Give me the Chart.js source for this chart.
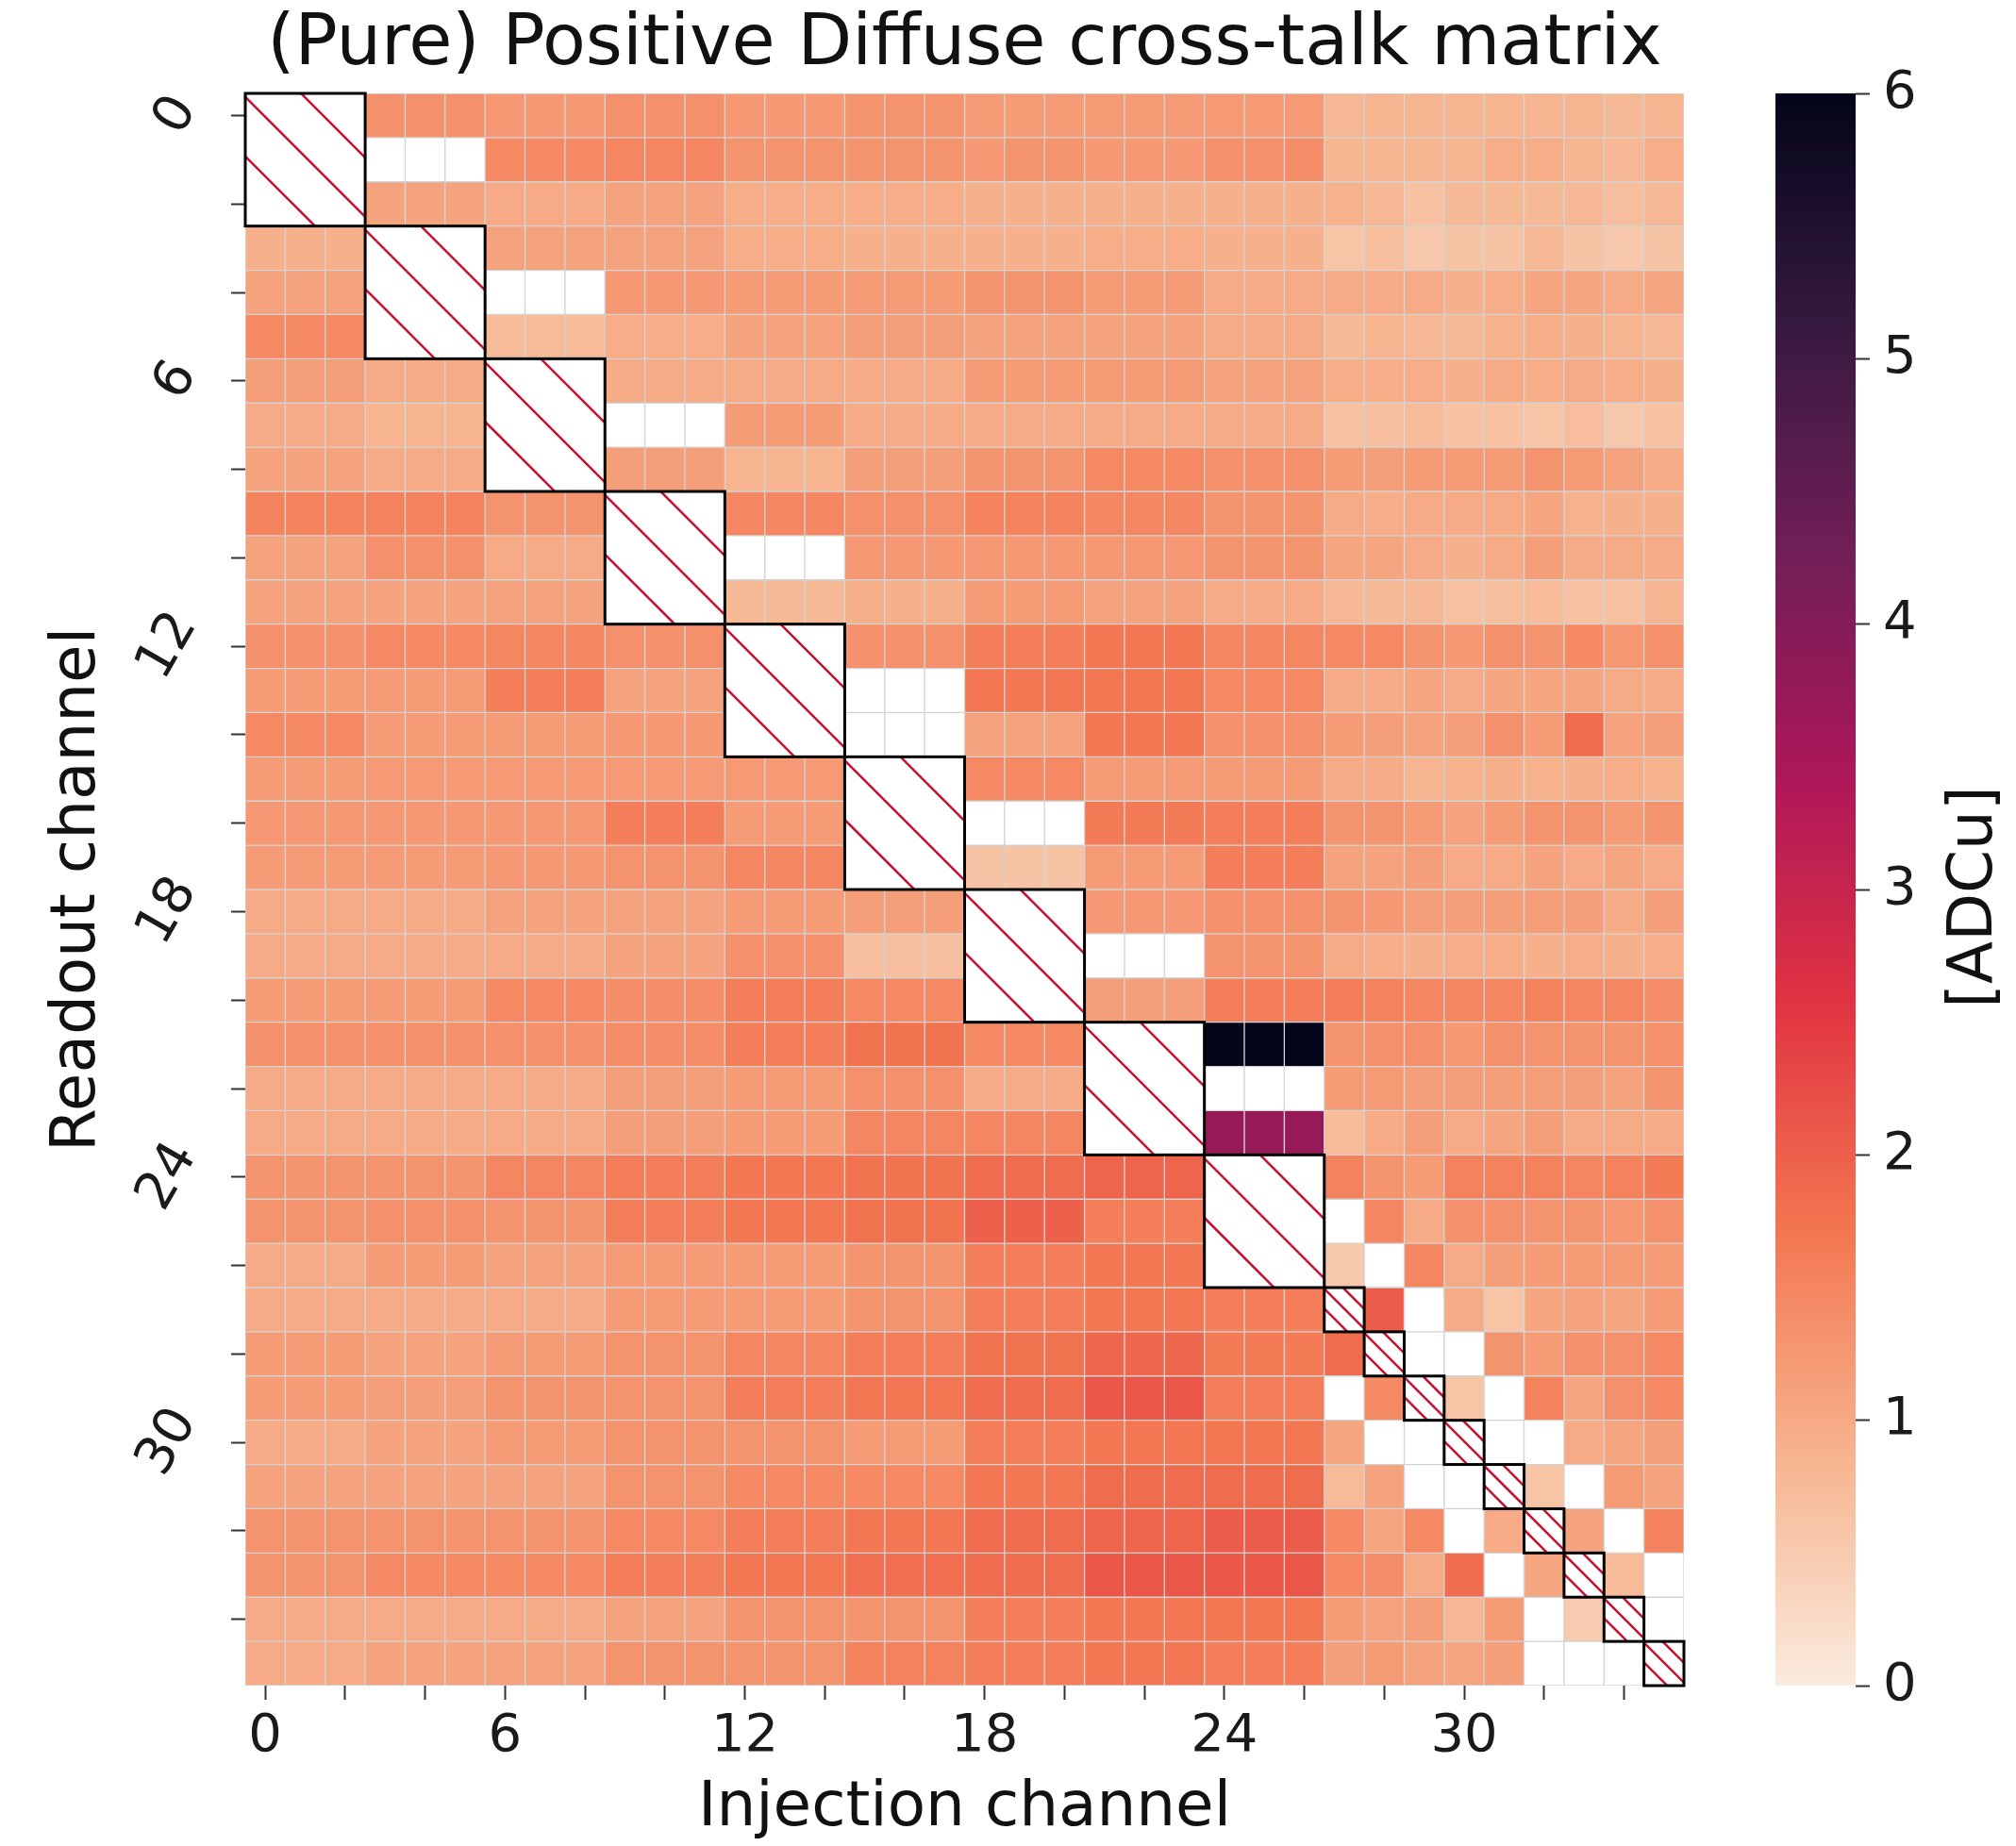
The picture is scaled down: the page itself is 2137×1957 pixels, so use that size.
<!DOCTYPE html>
<html>
<head>
<meta charset="utf-8">
<title>(Pure) Positive Diffuse cross-talk matrix</title>
<script src="https://cdn.jsdelivr.net/npm/chart.js@4.4.1/dist/chart.umd.min.js"></script>
<style>
  html, body { margin: 0; padding: 0; background: #fff; }
  #wrap { position: relative; width: 2137px; height: 1957px; }
  #matrix { position: absolute; left: 0; top: 0; }
  #cbar { position: absolute; left: 1860px; top: 0; }
</style>
</head>
<body>
<div id="wrap">
  <canvas id="matrix" width="1800" height="1957"></canvas>
  <canvas id="cbar" width="277" height="1957"></canvas>
</div>
<script>
// channel numbers (injection = columns, readout = rows)
const channels = ['0','1','2','3','4','5','6','7','8','9','10','11','12','13','14','15','16','17',
  '18','19','20','21','22','23','24','25','26','27','28','29','30','31','32','33','34','35'];
const labelledChannels = ['0', '6', '12', '18', '24', '30'];
const colorbarTicks = [0, 1, 2, 3, 4, 5, 6];
const vmin = 0, vmax = 6;

// self-injection blocks [first, last+1], hatched on the diagonal
const diagBlocks = [[0,3],[3,6],[6,9],[9,12],[12,15],[15,18],[18,21],[21,24],[24,27],
  [27,28],[28,29],[29,30],[30,31],[31,32],[32,33],[33,34],[34,35],[35,36]];

// cross-talk amplitude [ADCu], one row per readout channel; null = not measured
const adcu = [
  [null,null,null,1.35,1.35,1.35,1.25,1.25,1.25,1.35,1.35,1.35,1.25,1.25,1.25,1.3,1.3,1.3,1.2,1.2,1.2,1.2,1.2,1.2,1.22,1.22,1.22,0.8,0.85,0.85,0.85,0.85,0.85,0.85,0.78,0.85],
  [null,null,null,null,null,null,1.45,1.45,1.45,1.5,1.5,1.5,1.3,1.3,1.3,1.3,1.3,1.3,1.25,1.3,1.3,1.25,1.25,1.25,1.35,1.35,1.4,0.82,0.85,0.85,0.85,0.95,0.95,0.85,0.8,0.95],
  [null,null,null,1.1,1.1,1.1,0.98,0.98,0.98,1.1,1.1,1.1,0.95,0.95,0.95,0.95,0.95,0.95,0.9,0.9,0.9,0.9,0.9,0.9,0.9,0.9,0.9,0.88,0.8,0.65,0.78,0.78,0.78,0.8,0.7,0.8],
  [0.9,0.9,0.9,null,null,null,1.1,1.1,1.1,1.1,1.1,1.1,0.95,0.95,0.95,0.9,0.9,0.9,0.9,0.9,0.9,0.95,0.95,0.95,0.9,0.9,0.9,0.6,0.7,0.55,0.62,0.62,0.8,0.62,0.55,0.62],
  [1.1,1.1,1.1,null,null,null,null,null,null,1.25,1.25,1.25,1.2,1.2,1.2,1.2,1.2,1.2,1.3,1.3,1.3,1.2,1.2,1.2,1.0,1.0,1.0,1.0,1.0,1.0,0.9,0.95,1.05,1.05,1.0,1.05],
  [1.45,1.45,1.45,null,null,null,0.75,0.75,0.75,0.95,0.95,0.95,1.1,1.1,1.1,1.15,1.15,1.15,1.1,1.1,1.1,1.1,1.1,1.1,1.0,1.0,1.0,0.78,0.85,0.8,0.78,0.88,0.95,0.9,0.85,0.8],
  [1.15,1.15,1.15,1.0,1.0,1.0,null,null,null,1.0,1.0,1.0,1.0,1.0,1.0,1.0,1.0,1.0,1.2,1.2,1.2,1.2,1.2,1.2,1.1,1.1,1.1,0.95,0.95,0.95,0.9,1.0,0.95,1.0,0.95,0.9],
  [1.0,1.0,1.0,0.85,0.85,0.85,null,null,null,null,null,null,1.2,1.2,1.2,1.0,1.0,1.0,1.0,1.0,1.0,1.0,1.0,1.0,1.0,1.0,1.0,0.65,0.68,0.75,0.65,0.65,0.6,0.72,0.55,0.65],
  [1.1,1.1,1.1,1.0,1.0,1.0,null,null,null,1.15,1.15,1.15,0.85,0.85,0.85,1.15,1.15,1.15,1.3,1.3,1.3,1.45,1.45,1.45,1.35,1.35,1.35,1.2,1.15,1.2,1.2,1.2,1.3,1.2,1.1,1.0],
  [1.55,1.55,1.55,1.55,1.55,1.55,1.3,1.3,1.3,null,null,null,1.5,1.5,1.5,1.35,1.35,1.35,1.55,1.55,1.55,1.5,1.5,1.5,1.3,1.3,1.3,1.0,0.95,1.0,1.0,0.98,1.05,0.88,0.9,0.9],
  [1.1,1.1,1.1,1.35,1.35,1.35,1.0,1.0,1.0,null,null,null,null,null,null,1.25,1.25,1.25,1.25,1.25,1.25,1.25,1.25,1.25,1.3,1.3,1.3,1.05,1.05,1.0,0.9,1.0,1.15,1.0,1.0,1.0],
  [1.1,1.1,1.1,1.1,1.1,1.1,1.1,1.1,1.1,null,null,null,0.78,0.78,0.78,0.92,0.92,0.92,1.2,1.2,1.2,1.1,1.1,1.1,1.0,1.0,1.0,0.8,0.78,0.8,0.65,0.7,0.75,0.65,0.65,0.85],
  [1.35,1.35,1.35,1.45,1.45,1.45,1.5,1.5,1.5,1.35,1.35,1.35,null,null,null,1.35,1.35,1.35,1.6,1.6,1.6,1.7,1.7,1.7,1.5,1.5,1.5,1.45,1.45,1.3,1.25,1.35,1.3,1.45,1.25,1.35],
  [1.2,1.2,1.2,1.2,1.2,1.2,1.6,1.6,1.6,1.1,1.1,1.1,null,null,null,null,null,null,1.7,1.7,1.7,1.7,1.7,1.7,1.45,1.45,1.45,1.0,1.0,1.05,1.0,1.05,1.05,1.05,0.98,1.0],
  [1.45,1.45,1.45,1.2,1.2,1.2,1.2,1.2,1.2,1.25,1.25,1.25,null,null,null,null,null,null,1.1,1.1,1.1,1.7,1.7,1.7,1.35,1.35,1.35,1.2,1.15,1.1,1.15,1.35,1.2,1.85,1.1,1.15],
  [1.2,1.2,1.2,1.22,1.22,1.22,1.22,1.22,1.22,1.22,1.22,1.22,1.22,1.22,1.22,null,null,null,1.45,1.45,1.45,1.2,1.2,1.2,1.2,1.2,1.2,1.0,0.98,0.85,0.88,0.9,0.88,0.9,0.95,0.88],
  [1.25,1.25,1.25,1.25,1.25,1.25,1.25,1.25,1.25,1.6,1.6,1.6,1.2,1.2,1.2,null,null,null,null,null,null,1.65,1.65,1.65,1.6,1.6,1.6,1.3,1.3,1.2,1.1,1.2,1.3,1.3,1.2,1.3],
  [1.2,1.2,1.2,1.2,1.2,1.2,1.25,1.25,1.25,1.3,1.3,1.3,1.5,1.5,1.5,null,null,null,0.62,0.62,0.62,1.2,1.2,1.2,1.6,1.6,1.6,1.1,1.1,1.15,1.0,1.0,1.1,1.0,1.05,1.0],
  [1.0,1.0,1.0,1.0,1.0,1.0,1.1,1.1,1.1,1.1,1.1,1.1,1.2,1.2,1.2,1.15,1.15,1.15,null,null,null,1.25,1.25,1.25,1.35,1.35,1.35,1.3,1.25,1.15,1.15,1.15,1.15,1.15,1.0,1.15],
  [1.0,1.0,1.0,1.0,1.0,1.0,1.0,1.0,1.0,1.1,1.1,1.1,1.35,1.35,1.35,0.68,0.68,0.68,null,null,null,null,null,null,1.3,1.3,1.3,1.0,0.95,0.9,0.95,0.95,0.9,0.95,0.9,0.95],
  [1.2,1.2,1.2,1.2,1.2,1.2,1.45,1.45,1.45,1.4,1.4,1.4,1.6,1.6,1.6,1.45,1.45,1.45,null,null,null,1.15,1.15,1.15,1.6,1.6,1.6,1.6,1.55,1.5,1.5,1.5,1.55,1.5,1.5,1.4],
  [1.35,1.35,1.35,1.35,1.35,1.35,1.35,1.35,1.35,1.4,1.4,1.4,1.6,1.6,1.6,1.75,1.75,1.75,1.45,1.45,1.45,null,null,null,6,6,6,1.3,1.35,1.35,1.25,1.35,1.3,1.3,1.3,1.35],
  [1.0,1.0,1.0,1.0,1.0,1.0,1.0,1.0,1.0,1.15,1.15,1.15,1.2,1.2,1.2,1.35,1.35,1.35,1.0,1.0,1.0,null,null,null,null,null,null,1.2,1.2,1.15,1.15,1.15,1.15,1.15,1.1,1.3],
  [1.0,1.0,1.0,1.0,1.0,1.0,1.0,1.0,1.0,1.15,1.15,1.15,1.2,1.2,1.2,1.5,1.5,1.5,1.5,1.5,1.5,null,null,null,3.75,3.75,3.75,0.75,1.0,1.15,1.0,1.05,1.15,1.0,1.0,1.0],
  [1.3,1.3,1.3,1.3,1.3,1.3,1.5,1.5,1.5,1.6,1.6,1.6,1.7,1.7,1.7,1.75,1.75,1.75,1.85,1.85,1.85,1.95,1.95,1.95,null,null,null,1.55,1.3,1.2,1.55,1.55,1.55,1.5,1.55,1.65],
  [1.3,1.3,1.3,1.35,1.35,1.35,1.3,1.3,1.3,1.6,1.6,1.6,1.7,1.7,1.7,1.75,1.75,1.75,2.0,2.0,2.0,1.6,1.6,1.6,null,null,null,null,1.5,1.0,1.35,1.35,1.3,1.3,1.25,1.35],
  [1.0,1.0,1.0,1.2,1.2,1.2,1.1,1.1,1.1,1.2,1.2,1.2,1.2,1.2,1.2,1.3,1.3,1.3,1.6,1.6,1.6,1.7,1.7,1.7,null,null,null,0.55,null,1.5,1.0,1.15,1.2,1.2,1.2,1.2],
  [1.0,1.0,1.0,1.0,1.0,1.0,1.0,1.0,1.0,1.2,1.2,1.2,1.2,1.2,1.2,1.3,1.3,1.3,1.6,1.6,1.6,1.7,1.7,1.7,1.6,1.6,1.6,null,2.05,null,1.0,0.6,1.05,1.1,1.05,1.2],
  [1.2,1.2,1.2,1.1,1.1,1.1,1.2,1.2,1.2,1.3,1.3,1.3,1.5,1.5,1.5,1.6,1.6,1.6,1.75,1.75,1.75,1.9,1.9,1.9,1.65,1.65,1.65,1.85,null,null,null,1.3,1.2,1.35,1.35,1.45],
  [1.2,1.2,1.2,1.15,1.15,1.15,1.3,1.3,1.3,1.3,1.3,1.3,1.6,1.6,1.6,1.7,1.7,1.7,1.85,1.85,1.85,2.1,2.1,2.1,1.6,1.6,1.6,null,1.45,null,0.6,null,1.55,1.05,1.35,1.45],
  [1.0,1.0,1.0,1.1,1.1,1.1,1.2,1.2,1.2,1.3,1.3,1.3,1.3,1.3,1.3,1.2,1.2,1.2,1.6,1.6,1.6,1.7,1.7,1.7,1.7,1.7,1.7,1.05,null,null,null,null,null,1.0,1.05,1.15],
  [1.1,1.1,1.1,1.1,1.1,1.1,1.1,1.1,1.1,1.3,1.3,1.3,1.45,1.45,1.45,1.45,1.45,1.45,1.7,1.7,1.7,1.85,1.85,1.85,1.85,1.85,1.85,0.75,1.1,null,null,null,0.6,null,1.2,1.1],
  [1.3,1.3,1.3,1.3,1.3,1.3,1.3,1.3,1.3,1.45,1.45,1.45,1.6,1.6,1.6,1.7,1.7,1.7,1.85,1.85,1.85,1.95,1.95,1.95,2.05,2.05,2.05,1.45,1.05,1.45,null,1.0,null,1.1,null,1.55],
  [1.3,1.3,1.3,1.45,1.45,1.45,1.45,1.45,1.45,1.6,1.6,1.6,1.7,1.7,1.7,1.8,1.8,1.8,1.85,1.85,1.85,2.1,2.1,2.1,2.1,2.1,2.1,1.45,1.4,1.0,1.85,null,1.05,null,0.75,null],
  [1.0,1.0,1.0,1.0,1.0,1.0,1.0,1.0,1.0,1.1,1.1,1.1,1.3,1.3,1.3,1.3,1.3,1.3,1.6,1.6,1.6,1.7,1.7,1.7,1.7,1.7,1.7,1.2,1.1,1.15,0.8,1.2,null,0.5,null,null],
  [1.0,1.0,1.0,1.1,1.1,1.1,1.1,1.1,1.1,1.3,1.3,1.3,1.3,1.3,1.3,1.55,1.55,1.55,1.6,1.6,1.6,1.7,1.7,1.7,1.6,1.6,1.6,1.15,1.2,1.1,1.05,1.15,null,null,null,null]
];

// reversed "rocket" palette: light at vmin, near-black at vmax
const rocketStops = [
  [0.000, [3, 5, 26]],
  [0.143, [53, 25, 62]],
  [0.286, [112, 31, 87]],
  [0.429, [173, 23, 89]],
  [0.571, [225, 51, 66]],
  [0.714, [243, 118, 81]],
  [0.857, [246, 180, 143]],
  [1.000, [250, 235, 221]]
];

function rocketR(v) {
  const t = 1 - Math.min(Math.max((v - vmin) / (vmax - vmin), 0), 1);
  for (let i = 1; i < rocketStops.length; i++) {
    const [t1, c1] = rocketStops[i];
    if (t <= t1) {
      const [t0, c0] = rocketStops[i - 1];
      const f = (t - t0) / (t1 - t0);
      const c = c0.map((a, k) => Math.round(a + (c1[k] - a) * f));
      return `rgb(${c[0]},${c[1]},${c[2]})`;
    }
  }
  return 'rgb(250,235,221)';
}

Chart.defaults.font.family = "'DejaVu Sans', sans-serif";
Chart.defaults.color = '#1a1a1a';

// one floating-bar dataset per readout row, spanning [row, row + 1]
const rowSets = adcu.map((row, r) => ({
  label: 'readout ' + channels[r],
  data: row.map(() => [r, r + 1]),
  backgroundColor: row.map(v => v === null ? '#ffffff' : rocketR(v)),
  borderColor: '#d3d3d3',
  borderWidth: 1,
  borderSkipped: false,
  grouped: false,
  barPercentage: 1,
  categoryPercentage: 1
}));

const rowTicks = channels.filter((c, i) => i % 2 === 0).map(c => Number(c) + 0.5);

// hatched diagonal blocks and rotated readout labels
const cellDecor = {
  id: 'cellDecor',
  afterDatasetsDraw(chart) {
    const ctx = chart.ctx;
    diagBlocks.forEach(([a, b]) => {
      const first = chart.getDatasetMeta(a).data[a];
      const last = chart.getDatasetMeta(b - 1).data[b - 1];
      const left = first.x - first.width / 2;
      const right = last.x + last.width / 2;
      const top = Math.min(first.y, first.base);
      const bottom = Math.max(last.y, last.base);
      const w = right - left, h = bottom - top;
      ctx.save();
      ctx.fillStyle = '#ffffff';
      ctx.fillRect(left, top, w, h);
      ctx.beginPath();
      ctx.rect(left, top, w, h);
      ctx.clip();
      ctx.strokeStyle = '#c8102e';
      ctx.lineWidth = 2.5;
      const step = w * 0.495, off = w * 0.03;
      [-1, 0, 1].forEach(k => {
        const c = off + k * step;
        ctx.beginPath();
        ctx.moveTo(left - h, top - h + c);
        ctx.lineTo(left + w + h, top + w + h + c);
        ctx.stroke();
      });
      ctx.restore();
      ctx.save();
      ctx.strokeStyle = '#000000';
      ctx.lineWidth = 3;
      ctx.strokeRect(left, top, w, h);
      ctx.restore();
    });
  },
  afterDraw(chart) {
    const ctx = chart.ctx;
    const ys = chart.scales.y;
    ctx.save();
    ctx.font = "56px 'DejaVu Sans'";
    ctx.fillStyle = '#1a1a1a';
    ctx.textAlign = 'center';
    ctx.textBaseline = 'middle';
    labelledChannels.forEach(lab => {
      const py = ys.getPixelForValue(Number(lab) + 0.5);
      const tw = ctx.measureText(lab).width;
      const boxW = tw * 0.5 + 41 * 0.866;
      const cx = ys.right - 46 - boxW / 2;
      ctx.save();
      ctx.translate(cx, py);
      ctx.rotate(-Math.PI / 3);
      ctx.fillText(lab, 0, 0);
      ctx.restore();
    });
    ctx.restore();
  }
};

new Chart(document.getElementById('matrix'), {
  type: 'bar',
  data: { labels: channels, datasets: rowSets },
  options: {
    responsive: false,
    animation: false,
    devicePixelRatio: 1,
    events: [],
    layout: { padding: { top: 0, right: 15, bottom: 0, left: 0 } },
    plugins: {
      legend: { display: false },
      tooltip: { enabled: false },
      title: {
        display: true,
        fullSize: false,
        text: '(Pure) Positive Diffuse cross-talk matrix',
        color: '#111',
        font: { size: 75, weight: 'normal' },
        padding: { top: 4, bottom: 5 }
      }
    },
    scales: {
      x: {
        type: 'category',
        position: 'bottom',
        offset: true,
        grid: {
          offset: false,
          drawOnChartArea: false,
          tickLength: 15,
          tickWidth: 2,
          tickColor: ctx => ctx.index % 2 === 0 ? '#333' : 'rgba(0,0,0,0)'
        },
        border: { display: false },
        ticks: {
          autoSkip: false,
          minRotation: 0,
          maxRotation: 0,
          padding: 6,
          font: { size: 56 },
          callback: (v, i) => labelledChannels.includes(channels[i]) ? channels[i] : ''
        },
        title: {
          display: true,
          text: 'Injection channel',
          color: '#111',
          font: { size: 66 },
          padding: { top: 0, bottom: 0 }
        },
        afterFit: s => { s.height = 170; }
      },
      y: {
        type: 'linear',
        min: 0,
        max: channels.length,
        reverse: true,
        afterBuildTicks: s => { s.ticks = rowTicks.map(v => ({ value: v })); },
        grid: { drawOnChartArea: false, tickLength: 15, tickWidth: 2, tickColor: '#333' },
        border: { display: false },
        ticks: { display: false },
        title: {
          display: true,
          text: 'Readout channel',
          color: '#111',
          font: { size: 66 },
          padding: { top: 43, bottom: 0 }
        },
        afterFit: s => { s.width = 260; }
      }
    }
  },
  plugins: [cellDecor]
});

// colour bar
const unitLabel = {
  id: 'unitLabel',
  afterDraw(chart) {
    const ctx = chart.ctx;
    const ys = chart.scales.y;
    ctx.save();
    ctx.font = "66px 'DejaVu Sans'";
    ctx.fillStyle = '#111';
    ctx.textAlign = 'center';
    ctx.textBaseline = 'middle';
    ctx.translate(ys.right - 43, (ys.top + ys.bottom) / 2 + 8);
    ctx.rotate(-Math.PI / 2);
    ctx.fillText('[ADCu]', 0, 0);
    ctx.restore();
  }
};

function barGradient(c) {
  const area = c.chart.chartArea;
  if (!area || !isFinite(area.top) || !isFinite(area.bottom) || area.bottom <= area.top) {
    return rocketR(1);
  }
  const g = c.chart.ctx.createLinearGradient(0, area.bottom, 0, area.top);
  for (let i = 0; i <= 48; i++) {
    const v = vmin + (vmax - vmin) * i / 48;
    g.addColorStop(i / 48, rocketR(v));
  }
  return g;
}

new Chart(document.getElementById('cbar'), {
  type: 'bar',
  data: {
    labels: ['ADCu'],
    datasets: [{
      data: [[vmin, vmax]],
      backgroundColor: barGradient,
      borderWidth: 0,
      barPercentage: 1,
      categoryPercentage: 1
    }]
  },
  options: {
    responsive: false,
    animation: false,
    devicePixelRatio: 1,
    events: [],
    layout: { padding: { top: 99, bottom: 170, left: 22, right: 0 } },
    plugins: { legend: { display: false }, tooltip: { enabled: false } },
    scales: {
      x: { display: false },
      y: {
        position: 'right',
        min: vmin,
        max: vmax,
        afterBuildTicks: s => { s.ticks = colorbarTicks.map(v => ({ value: v })); },
        grid: { drawOnChartArea: false, tickLength: 15, tickWidth: 2, tickColor: '#333' },
        border: { display: false },
        ticks: { padding: 14, font: { size: 56 } },
        afterFit: s => { s.width = 170; }
      }
    }
  },
  plugins: [unitLabel]
});
</script>
</body>
</html>
